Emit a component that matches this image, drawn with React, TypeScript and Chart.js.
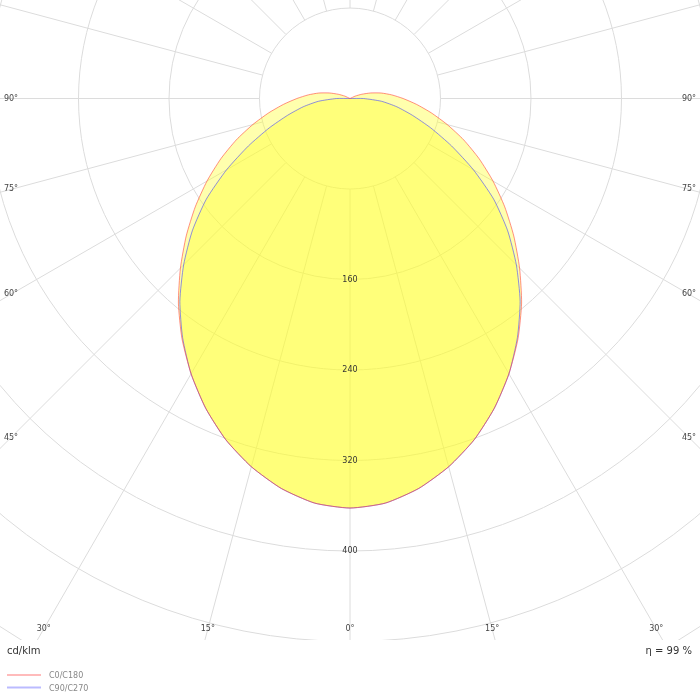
import { useEffect, useRef } from 'react';
import { Chart, registerables } from 'chart.js';

Chart.register(...registerables);

// luminous intensity (cd/klm) against gamma angle
const GAMMA_C0 = [0, 5, 10, 15, 20, 25, 30, 35, 40, 45, 50, 55, 60, 65, 70, 75, 80, 85, 90, 95, 100, 105, 110, 115, 120];
const C0_C180 = [362, 359, 350, 337, 321, 302, 281, 259, 236, 212, 189, 167, 146, 126, 107, 89, 73, 59, 47, 37, 28, 19, 11, 5, 0];

const GAMMA_C90 = [0, 5, 10, 15, 20, 25, 30, 35, 40, 45, 50, 55, 60, 65, 70, 75, 80, 85, 90, 95];
const C90_C270 = [362, 359, 350, 337, 321, 302, 281, 258, 234, 208, 182, 155, 126, 99, 76, 57, 42, 28, 12, 0];

const SERIES_LABELS = ['C0/C180', 'C90/C270'];
const RINGS = [80, 160, 240, 320, 400, 480, 560];
const RING_LABELS = [160, 240, 320, 400];
const SPOKES = [0, 15, 30, 45, 60, 75, 90, 105, 120, 135, 150, 165, 180, 195, 210, 225, 240, 255, 270, 285, 300, 315, 330, 345];
const ANGLE_LABELS = [0, 15, 30, 45, 60, 75, 90];
const UNIT = 'cd/klm';
const ETA = 'η = 99 %';

const LINE_COLORS = ['rgba(255, 70, 60, 0.6)', 'rgba(70, 70, 255, 0.6)'];
const LEGEND_COLORS = ['rgba(255, 120, 120, 0.5)', 'rgba(120, 120, 255, 0.5)'];
const FILL = 'rgba(255, 255, 40, 0.38)';
const FONT = '"DejaVu Sans", Verdana, sans-serif';

// both halves of one C-plane pair, left half first so the outline closes
function toPoints(gammas: number[], values: number[]) {
  const pts: { x: number; y: number }[] = [];
  for (let i = gammas.length - 1; i >= 0; i--) {
    const t = (gammas[i] * Math.PI) / 180;
    pts.push({ x: -values[i] * Math.sin(t), y: -values[i] * Math.cos(t) });
  }
  for (let i = 1; i < gammas.length; i++) {
    const t = (gammas[i] * Math.PI) / 180;
    pts.push({ x: values[i] * Math.sin(t), y: -values[i] * Math.cos(t) });
  }
  return pts;
}

const polarGrid = {
  id: 'polarGrid',
  beforeDatasetsDraw(chart: any) {
    const { ctx, scales } = chart;
    const cx = scales.x.getPixelForValue(0);
    const cy = scales.y.getPixelForValue(0);
    const k = scales.x.getPixelForValue(1) - cx;
    ctx.save();
    ctx.beginPath();
    ctx.rect(0, 0, chart.width, chart.height - 60);
    ctx.clip();
    ctx.strokeStyle = '#dcdcdc';
    ctx.lineWidth = 1;
    RINGS.forEach((r) => {
      ctx.beginPath();
      ctx.arc(cx, cy, r * k, 0, Math.PI * 2);
      ctx.stroke();
    });
    SPOKES.forEach((a) => {
      const t = (a * Math.PI) / 180;
      const s = Math.sin(t);
      const c = Math.cos(t);
      ctx.beginPath();
      ctx.moveTo(cx + s * RINGS[0] * k, cy + c * RINGS[0] * k);
      ctx.lineTo(cx + s * 1200, cy + c * 1200);
      ctx.stroke();
    });
    ctx.restore();

    // fill the closed outline the line element itself traces
    ctx.save();
    chart.data.datasets.forEach((ds: any, i: number) => {
      const line = chart.getDatasetMeta(i).dataset;
      line.updateControlPoints(chart.chartArea);
      ctx.beginPath();
      line.path(ctx);
      ctx.closePath();
      ctx.fillStyle = ds.backgroundColor;
      ctx.fill();
    });
    ctx.restore();
  },
  afterDatasetsDraw(chart: any) {
    const { ctx, scales } = chart;
    const cx = scales.x.getPixelForValue(0);
    const cy = scales.y.getPixelForValue(0);
    const k = scales.x.getPixelForValue(1) - cx;
    ctx.save();
    ctx.textAlign = 'center';
    ctx.textBaseline = 'middle';
    ctx.font = `8px ${FONT}`;
    ctx.fillStyle = '#333';
    RING_LABELS.forEach((r) => ctx.fillText(String(r), cx, cy + r * k));

    ctx.fillStyle = '#444';
    const sideX = cx - 11;
    const bottomY = chart.height - 71;
    ANGLE_LABELS.forEach((a) => {
      const t = (a * Math.PI) / 180;
      const s = Math.sin(t);
      const c = Math.cos(t);
      const sides = a === 0 ? [1] : [-1, 1];
      sides.forEach((dir) => {
        let px: number;
        let py: number;
        const ySide = s > 0 ? cy + (sideX / s) * c : Infinity;
        if (ySide <= bottomY) {
          px = cx + dir * sideX;
          py = ySide;
        } else {
          px = cx + dir * ((bottomY - cy) / c) * s;
          py = bottomY;
        }
        ctx.fillText(`${a}°`, px, py);
      });
    });

    ctx.fillStyle = '#333';
    ctx.font = `10px ${FONT}`;
    ctx.textAlign = 'left';
    ctx.fillText(UNIT, 7, chart.height - 49);
    ctx.textAlign = 'right';
    ctx.fillText(ETA, chart.width - 8, chart.height - 49);

    ctx.font = `8px ${FONT}`;
    ctx.textAlign = 'left';
    chart.data.datasets.forEach((ds: any, i: number) => {
      const ly = chart.height - 25 + i * 12.5;
      ctx.strokeStyle = LEGEND_COLORS[i];
      ctx.lineWidth = 2;
      ctx.beginPath();
      ctx.moveTo(7, ly);
      ctx.lineTo(41, ly);
      ctx.stroke();
      ctx.fillStyle = '#888';
      ctx.fillText(ds.label, 49, ly + 1);
    });
    ctx.restore();
  },
};

export default function App() {
  const canvasRef = useRef<HTMLCanvasElement>(null);

  useEffect(() => {
    if (!canvasRef.current) return;
    const chart = new Chart(canvasRef.current, {
      type: 'scatter',
      data: {
        datasets: [
          {
            label: SERIES_LABELS[0],
            data: toPoints(GAMMA_C0, C0_C180),
            showLine: true,
            tension: 0.2,
            borderColor: LINE_COLORS[0],
            backgroundColor: FILL,
            borderWidth: 1,
            pointRadius: 0,
            fill: false,
          },
          {
            label: SERIES_LABELS[1],
            data: toPoints(GAMMA_C90, C90_C270),
            showLine: true,
            tension: 0.2,
            borderColor: LINE_COLORS[1],
            backgroundColor: FILL,
            borderWidth: 1,
            pointRadius: 0,
            fill: false,
          },
        ],
      },
      options: {
        responsive: false,
        animation: false,
        layout: { padding: 0 },
        scales: {
          x: { type: 'linear', display: false, min: -309.4, max: 309.4 },
          y: { type: 'linear', display: false, min: -531.7, max: 87.1 },
        },
        plugins: {
          legend: { display: false },
          tooltip: { enabled: false },
        },
      },
      plugins: [polarGrid],
    });
    return () => chart.destroy();
  }, []);

  return (
    <div style={{ position: 'absolute', left: 0, top: 0, width: 700, height: 700, background: '#fff' }}>
      <canvas ref={canvasRef} width={700} height={700} />
    </div>
  );
}
